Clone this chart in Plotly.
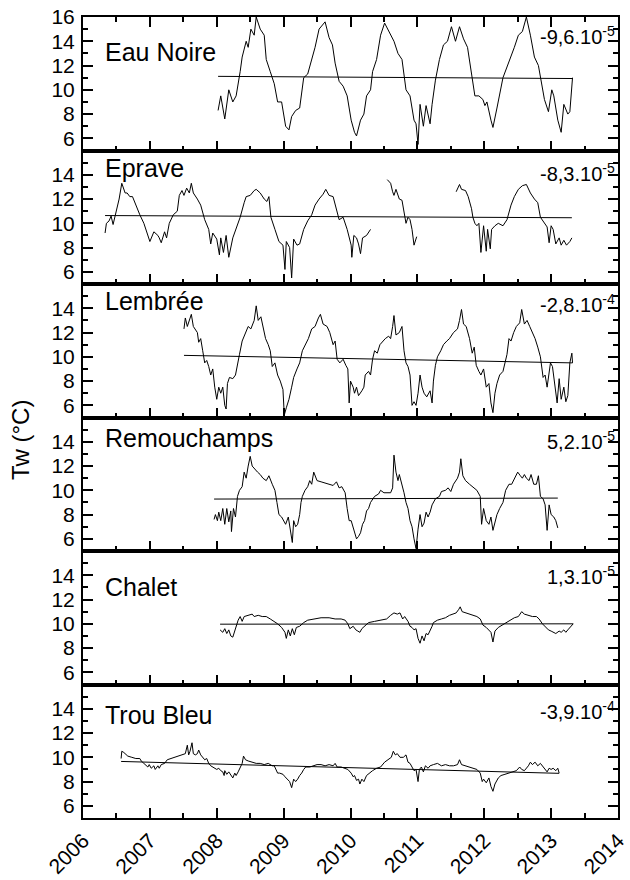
import plotly.graph_objects as go

# ---------------- data ----------------
station_names = ["Eau Noire", "Eprave", "Lembrée", "Remouchamps", "Chalet", "Trou Bleu"]
slope_mantissa = ["-9,6", "-8,3", "-2,8", "5,2", "1,3", "-3,9"]
slope_exponent = ["-5", "-5", "-4", "-5", "-5", "-4"]

eau_noire_t = [2008.02, 2008.06, 2008.12, 2008.18, 2008.24, 2008.29, 2008.35, 2008.38, 2008.44, 2008.47,
               2008.51, 2008.56, 2008.59, 2008.65, 2008.71, 2008.74, 2008.80, 2008.86, 2008.91, 2008.97,
               2009.03, 2009.08, 2009.12, 2009.18, 2009.24, 2009.30, 2009.36, 2009.42, 2009.47, 2009.53,
               2009.59, 2009.62, 2009.68, 2009.73, 2009.77, 2009.83, 2009.89, 2009.95,
               2010.01, 2010.06, 2010.09, 2010.15, 2010.20, 2010.24, 2010.30, 2010.33, 2010.39, 2010.45,
               2010.51, 2010.60, 2010.65, 2010.71, 2010.77, 2010.83, 2010.89, 2010.95, 2010.98,
               2011.01, 2011.04, 2011.09, 2011.13, 2011.19, 2011.22, 2011.27, 2011.33, 2011.39, 2011.45,
               2011.51, 2011.57, 2011.63, 2011.69, 2011.75, 2011.81, 2011.86, 2011.92, 2011.98,
               2012.01, 2012.04, 2012.10, 2012.13, 2012.19, 2012.23, 2012.28, 2012.45, 2012.51, 2012.57,
               2012.63, 2012.69, 2012.75, 2012.81, 2012.84, 2012.90, 2012.96,
               2013.01, 2013.04, 2013.10, 2013.15, 2013.19, 2013.25, 2013.28, 2013.32]
eau_noire_tw = [8.3, 9.5, 7.6, 10.0, 9.0, 9.5, 11.5, 12.7, 14.0, 13.5,
                15.0, 14.5, 16.0, 15.0, 14.5, 12.5, 11.5, 10.5, 9.0, 9.0,
                7.0, 6.7, 7.8, 8.3, 8.5, 11.0, 11.3, 12.5, 13.5, 15.0,
                15.4, 15.6, 14.3, 13.7, 12.2, 10.7, 10.3, 9.5,
                7.5, 6.5, 6.2, 7.5, 8.0, 9.5, 10.0, 11.5, 12.5, 14.5,
                15.5, 14.5, 14.0, 13.0, 12.5, 10.0, 9.5, 7.5, 7.2,
                5.5, 8.8, 7.0, 8.7, 7.2, 8.8, 10.8, 12.5, 13.7, 14.0,
                15.2, 14.0, 15.2, 14.2, 13.5, 11.5, 9.5, 9.5, 9.2,
                8.7, 9.0, 7.5, 6.9, 8.5, 9.5, 11.0, 13.5, 14.5, 14.8,
                16.0, 14.5, 12.7, 12.0, 11.0, 9.2, 8.2,
                10.0, 9.5, 7.5, 6.5, 8.8, 8.0, 8.2, 11.0]

eprave_t = [2006.33, 2006.35, 2006.39, 2006.42, 2006.45, 2006.50, 2006.54, 2006.58, 2006.63, 2006.66,
            2006.70, 2006.74, 2006.79, 2006.85, 2006.91, 2006.97,
            2007.00, 2007.06, 2007.12, 2007.14, 2007.17, 2007.22, 2007.25, 2007.29, 2007.35, 2007.41,
            2007.44, 2007.48, 2007.51, 2007.55, 2007.59, 2007.62, 2007.65, 2007.71, 2007.76, 2007.82,
            2007.88, 2007.91, 2007.94,
            2008.00, 2008.04, 2008.06, 2008.10, 2008.14, 2008.18, 2008.24, 2008.29, 2008.35, 2008.41,
            2008.44, 2008.50, 2008.56, 2008.59, 2008.65, 2008.71, 2008.75, 2008.78, 2008.81, 2008.87,
            2008.93, 2008.99,
            2009.02, 2009.04, 2009.09, 2009.12, 2009.15, 2009.20, 2009.24, 2009.30, 2009.36, 2009.42,
            2009.47, 2009.53, 2009.59, 2009.63, 2009.68, 2009.74, 2009.80, 2009.83, 2009.89, 2009.95,
            2010.01, 2010.02, 2010.05, 2010.09, 2010.12, 2010.15, 2010.18, 2010.24, 2010.30,
            2010.42,
            2010.55, 2010.60, 2010.63, 2010.65, 2010.68, 2010.73, 2010.77, 2010.80, 2010.83, 2010.86,
            2010.89, 2010.92, 2010.95, 2010.99,
            2011.30,
            2011.58, 2011.63, 2011.66, 2011.72, 2011.76, 2011.81, 2011.83, 2011.86, 2011.89, 2011.92,
            2011.95, 2011.99,
            2012.03, 2012.05, 2012.09, 2012.11, 2012.16, 2012.21, 2012.28, 2012.34, 2012.40, 2012.45,
            2012.51, 2012.57, 2012.63, 2012.69, 2012.75, 2012.80, 2012.84, 2012.90, 2012.94, 2012.97,
            2013.00, 2013.03, 2013.07, 2013.12, 2013.15, 2013.19, 2013.23, 2013.28, 2013.31]
eprave_tw = [9.2, 10.0, 10.2, 10.6, 9.9, 11.0, 12.0, 13.3, 12.5, 12.5,
             12.2, 12.2, 11.5, 10.7, 10.0, 9.0,
             8.5, 9.3, 9.0, 8.8, 8.4, 9.3, 8.8, 10.0, 10.7, 11.0,
             12.3, 12.7, 12.3, 12.9, 12.5, 13.3, 12.5, 12.0, 11.5, 10.3,
             9.5, 8.3, 9.2,
             8.7, 7.4, 8.8, 7.6, 9.0, 7.2, 8.8, 9.5, 10.5, 11.7,
             12.2, 12.3, 12.7, 12.8, 12.5, 12.0, 11.8, 12.2, 10.5, 9.5,
             8.5, 8.2,
             6.2, 8.5, 8.0, 5.5, 8.7, 8.2, 8.3, 9.5, 10.2, 10.7,
             11.5, 12.0, 12.4, 12.8, 12.3, 12.2, 11.0, 10.3, 10.5, 9.5,
             8.2, 7.2, 9.0, 8.8, 8.3, 7.5, 8.8, 9.0, 9.5,
             None,
             13.6, 13.3, 12.6, 12.3, 12.8, 12.0, 11.9, 11.0, 10.0, 10.5,
             10.3, 9.5, 8.2, 8.9,
             None,
             12.6, 13.2, 12.8, 12.7, 12.2, 11.2, 10.5, 10.0, 9.8, 10.0,
             7.6, 9.8,
             7.7, 9.5, 7.9, 9.5, 9.8, 10.0, 9.8, 10.3, 11.5, 12.2,
             12.8, 13.1, 13.2, 12.5, 12.0, 11.7, 10.5, 10.0, 9.7, 8.4,
             9.8, 9.5, 8.3, 8.8, 8.2, 8.6, 8.2, 8.5, 8.8]

lembree_t = [2007.51, 2007.53, 2007.56, 2007.59, 2007.62, 2007.65, 2007.68, 2007.71, 2007.73, 2007.76,
             2007.79, 2007.82, 2007.85, 2007.88, 2007.91, 2007.94, 2007.97,
             2008.00, 2008.03, 2008.06, 2008.09, 2008.12, 2008.14, 2008.16, 2008.19, 2008.24, 2008.28,
             2008.31, 2008.34, 2008.38, 2008.43, 2008.47, 2008.51, 2008.56, 2008.59, 2008.62, 2008.66,
             2008.69, 2008.73, 2008.77, 2008.80, 2008.83, 2008.87, 2008.91, 2008.95, 2008.99,
             2009.01, 2009.04, 2009.08, 2009.12, 2009.15, 2009.20, 2009.24, 2009.28, 2009.33, 2009.37,
             2009.42, 2009.47, 2009.52, 2009.55, 2009.59, 2009.65, 2009.69, 2009.74, 2009.77, 2009.80,
             2009.84, 2009.89, 2009.93, 2009.96, 2009.98,
             2010.00, 2010.04, 2010.06, 2010.09, 2010.12, 2010.17, 2010.20, 2010.22, 2010.27, 2010.30,
             2010.33, 2010.36, 2010.40, 2010.44, 2010.48, 2010.52, 2010.57, 2010.60, 2010.63, 2010.65,
             2010.68, 2010.73, 2010.77, 2010.80, 2010.83, 2010.86, 2010.89, 2010.92, 2010.95, 2010.98,
             2011.01, 2011.04, 2011.07, 2011.10, 2011.14, 2011.19, 2011.22, 2011.24, 2011.27, 2011.30,
             2011.35, 2011.39, 2011.44, 2011.48, 2011.54, 2011.60, 2011.63, 2011.66, 2011.69, 2011.73,
             2011.78, 2011.82, 2011.85, 2011.88, 2011.92, 2011.95, 2011.99,
             2012.03, 2012.07, 2012.10, 2012.13, 2012.16, 2012.19, 2012.23, 2012.28, 2012.31, 2012.34,
             2012.37, 2012.40, 2012.44, 2012.48, 2012.53, 2012.56, 2012.60, 2012.64, 2012.68, 2012.72,
             2012.76, 2012.80, 2012.84, 2012.88, 2012.91, 2012.94, 2012.99,
             2013.02, 2013.06, 2013.09, 2013.12, 2013.15, 2013.19, 2013.22, 2013.25, 2013.28, 2013.31,
             2013.32]
lembree_tw = [12.3, 13.2, 12.5, 13.0, 13.5, 12.5, 12.2, 12.0, 11.2, 11.5,
              10.5, 9.5, 9.7, 9.2, 8.5, 9.0, 7.5,
              6.5, 7.5, 7.0, 7.5, 6.0, 5.7, 7.8, 8.3, 8.2, 8.5,
              9.5, 10.2, 11.3, 12.0, 12.5, 12.3, 13.0, 14.2, 13.0, 13.3,
              12.5, 11.5, 11.0, 10.5, 9.2, 9.5, 8.5, 8.0, 7.3,
              5.2, 5.8, 6.5, 7.5, 8.3, 9.0, 9.5, 10.5, 11.0, 11.5,
              12.3, 12.5, 13.2, 13.5, 12.7, 12.5, 12.0, 11.0, 11.3, 9.8,
              9.5, 9.8, 9.3, 9.0, 6.2,
              8.0, 7.5, 7.0, 7.5, 6.8, 7.2, 7.5, 8.5, 8.8, 8.5,
              9.8, 10.5, 10.3, 11.0, 11.3, 11.5, 11.7, 11.5, 12.5, 13.4,
              11.8, 12.0, 12.5, 10.5, 9.5, 9.2, 8.5, 6.0, 6.3, 6.0,
              7.0, 8.5, 7.5, 7.0, 6.7, 7.2, 6.2, 8.0, 9.3, 10.0,
              10.5, 11.0, 11.3, 11.5, 12.0, 12.3, 13.0, 13.9, 12.7, 12.5,
              11.5, 10.3, 10.8, 9.3, 8.8, 8.5, 9.0,
              7.5, 7.8, 6.2, 5.4, 7.0, 7.8, 8.5, 8.8, 9.5, 10.2,
              11.5, 11.3, 12.0, 12.5, 12.8, 13.9, 12.7, 13.0, 12.5, 12.0,
              11.5, 10.8, 10.0, 8.3, 8.5, 7.5, 9.5,
              9.2, 7.3, 6.2, 8.2, 6.5, 7.5, 6.3, 6.8, 9.5, 10.3,
              9.5]

remouchamps_t = [2007.96, 2007.98,
                 2008.01, 2008.03, 2008.06, 2008.09, 2008.12, 2008.15, 2008.18, 2008.21, 2008.22, 2008.25,
                 2008.28, 2008.31, 2008.34, 2008.38, 2008.41, 2008.44, 2008.47, 2008.50, 2008.53, 2008.56,
                 2008.61, 2008.65, 2008.69, 2008.74, 2008.78, 2008.83, 2008.87, 2008.90, 2008.93, 2008.97,
                 2009.00, 2009.03, 2009.07, 2009.10, 2009.13, 2009.15, 2009.18, 2009.21, 2009.24, 2009.26,
                 2009.28, 2009.32, 2009.36, 2009.39, 2009.42, 2009.45, 2009.47, 2009.50, 2009.56, 2009.62,
                 2009.68, 2009.74, 2009.79, 2009.83, 2009.87, 2009.92, 2009.95, 2009.98,
                 2010.01, 2010.04, 2010.06, 2010.09, 2010.12, 2010.15, 2010.18, 2010.21, 2010.24, 2010.27,
                 2010.30, 2010.36, 2010.42, 2010.45, 2010.50, 2010.55, 2010.60, 2010.63, 2010.65, 2010.68,
                 2010.71, 2010.73, 2010.77, 2010.80, 2010.83, 2010.86, 2010.89, 2010.92, 2010.95, 2010.98,
                 2011.01, 2011.04, 2011.07, 2011.10, 2011.13, 2011.16, 2011.19, 2011.22, 2011.27, 2011.33,
                 2011.36, 2011.42, 2011.46, 2011.50, 2011.54, 2011.57, 2011.60, 2011.63, 2011.65, 2011.68,
                 2011.72, 2011.78, 2011.83, 2011.89, 2011.94, 2011.96, 2011.99,
                 2012.03, 2012.07, 2012.10, 2012.13, 2012.16, 2012.19, 2012.23, 2012.28, 2012.32, 2012.37,
                 2012.41, 2012.45, 2012.50, 2012.54, 2012.57, 2012.60, 2012.63, 2012.67, 2012.70, 2012.74,
                 2012.78, 2012.81, 2012.84, 2012.88, 2012.91, 2012.94, 2012.97,
                 2013.00, 2013.04, 2013.07, 2013.10]
remouchamps_tw = [7.6, 8.0,
                  7.5, 8.2, 7.5, 8.5, 7.2, 8.5, 7.4, 8.3, 6.6, 8.5,
                  7.8, 9.5, 10.0, 10.3, 11.5, 11.0, 12.0, 12.8, 12.0, 11.8,
                  11.5, 11.3, 11.0, 10.8, 11.2, 10.5, 10.0, 9.0, 8.0, 7.8,
                  7.5, 7.2, 7.8, 6.8, 5.7, 7.5, 7.0, 7.2, 8.0, 9.0,
                  9.5, 10.0, 10.3, 10.8, 10.5, 11.5, 11.2, 10.8, 10.7, 10.6,
                  10.5, 10.4, 10.7, 10.2, 10.3, 9.8, 8.5, 7.5,
                  7.5, 7.0, 6.5, 6.0, 6.2, 6.5, 7.2, 7.5, 8.3, 8.5,
                  9.0, 9.5, 9.7, 10.0, 9.8, 9.8, 9.8, 10.2, 12.9, 11.5,
                  10.8, 11.3, 10.5, 9.8, 9.0, 8.5, 7.5, 7.0, 6.0, 5.2,
                  6.8, 8.0, 7.0, 7.3, 8.2, 7.8, 8.2, 8.8, 9.3, 9.5,
                  9.9, 10.0, 10.2, 9.9, 10.5, 10.8, 11.0, 11.5, 12.6, 11.2,
                  10.8, 10.5, 10.3, 10.0, 9.5, 7.2, 8.5,
                  7.5, 7.2, 7.8, 6.7, 7.5, 8.0, 8.5, 9.0, 10.0, 10.5,
                  10.5, 11.0, 11.5, 11.2, 11.0, 11.3, 11.0, 10.8, 11.3, 10.5,
                  10.5, 11.2, 9.5, 9.3, 8.8, 6.7, 8.8,
                  8.0, 7.8, 7.5, 6.9]

chalet_t = [2008.05, 2008.09, 2008.12, 2008.15, 2008.18, 2008.21, 2008.24, 2008.27, 2008.29, 2008.32,
            2008.35, 2008.38, 2008.41, 2008.47, 2008.53, 2008.56, 2008.62, 2008.68, 2008.74, 2008.80,
            2008.86, 2008.91, 2008.97,
            2009.02, 2009.04, 2009.07, 2009.10, 2009.13, 2009.16, 2009.19, 2009.24, 2009.30, 2009.36,
            2009.45, 2009.56, 2009.68, 2009.77, 2009.86, 2009.92, 2009.96, 2009.99,
            2010.04, 2010.08, 2010.11, 2010.14, 2010.17, 2010.21, 2010.27, 2010.36, 2010.45, 2010.54,
            2010.60, 2010.65, 2010.70, 2010.74, 2010.78, 2010.81, 2010.86, 2010.89, 2010.92, 2010.95,
            2010.98,
            2011.01, 2011.04, 2011.07, 2011.10, 2011.13, 2011.16, 2011.19, 2011.22, 2011.24, 2011.30,
            2011.36, 2011.42, 2011.48, 2011.53, 2011.58, 2011.62, 2011.64, 2011.67, 2011.72, 2011.78,
            2011.83, 2011.89, 2011.94, 2011.98,
            2012.03, 2012.07, 2012.10, 2012.13, 2012.16, 2012.21, 2012.27, 2012.34, 2012.40, 2012.45,
            2012.51, 2012.56, 2012.60, 2012.66, 2012.72, 2012.78, 2012.82, 2012.87, 2012.91, 2012.96,
            2013.00, 2013.04, 2013.07, 2013.12, 2013.15, 2013.19, 2013.22, 2013.25, 2013.29, 2013.33]
chalet_tw = [9.5, 9.3, 9.6, 9.2, 9.5, 9.0, 8.9, 9.5, 9.7, 10.3,
             10.6, 10.2, 10.6, 10.7, 10.8, 10.6, 10.7, 10.6, 10.6, 10.4,
             10.2, 10.0, 9.7,
             9.3, 8.8, 9.5, 9.0, 9.6, 9.1, 9.7, 9.8, 10.1, 10.3,
             10.4, 10.5, 10.5, 10.4, 10.4, 10.3, 10.0, 9.6,
             9.8, 9.5, 9.4, 9.3, 9.6, 9.8, 10.1, 10.2, 10.3, 10.4,
             10.7, 10.9, 10.8, 10.9, 10.4, 10.6, 10.2, 9.8, 9.7, 9.5,
             9.6,
             8.8, 8.4, 9.0, 8.6, 9.2, 9.1, 9.4, 9.8, 10.1, 10.3,
             10.4, 10.5, 10.7, 10.8, 10.9, 11.2, 11.4, 11.0, 10.9, 10.8,
             10.7, 10.6, 10.4, 9.9,
             9.7, 9.5, 9.3, 8.5, 9.4, 9.7, 9.9, 10.1, 10.3, 10.5,
             10.6, 11.0, 10.8, 10.7, 10.6, 10.6, 10.4, 10.0, 9.8, 9.5,
             9.4, 9.3, 9.2, 9.4, 9.3, 9.5, 9.3, 9.5, 9.8, 10.0]

trou_bleu_t = [2006.57, 2006.58, 2006.61, 2006.67, 2006.73, 2006.79, 2006.85, 2006.87, 2006.91, 2006.93,
               2006.97, 2006.99,
               2007.02, 2007.06, 2007.08, 2007.12, 2007.14, 2007.17, 2007.22, 2007.26, 2007.32, 2007.36,
               2007.41, 2007.47, 2007.53, 2007.56, 2007.58, 2007.60, 2007.63, 2007.65, 2007.68, 2007.71,
               2007.73, 2007.76, 2007.79, 2007.82, 2007.85, 2007.88, 2007.91, 2007.94, 2007.97,
               2008.00, 2008.03, 2008.06, 2008.09, 2008.11, 2008.12, 2008.15, 2008.18, 2008.21, 2008.24,
               2008.27, 2008.29, 2008.32, 2008.35, 2008.38, 2008.40, 2008.43, 2008.47, 2008.53, 2008.59,
               2008.65, 2008.71, 2008.77, 2008.83, 2008.86, 2008.88, 2008.91, 2008.94, 2008.99,
               2009.02, 2009.06, 2009.09, 2009.12, 2009.15, 2009.18, 2009.21, 2009.24, 2009.27, 2009.30,
               2009.33, 2009.39, 2009.45, 2009.50, 2009.56, 2009.62, 2009.68, 2009.74, 2009.77, 2009.80,
               2009.86, 2009.92, 2009.96,
               2010.01, 2010.04, 2010.06, 2010.09, 2010.12, 2010.14, 2010.17, 2010.20, 2010.24, 2010.28,
               2010.33, 2010.39, 2010.45, 2010.51, 2010.57, 2010.61, 2010.64, 2010.67, 2010.70, 2010.74,
               2010.79, 2010.83, 2010.86, 2010.89, 2010.92, 2010.95, 2010.98,
               2011.01, 2011.03, 2011.06, 2011.09, 2011.12, 2011.16, 2011.19, 2011.24, 2011.30, 2011.36,
               2011.42, 2011.48, 2011.54, 2011.60, 2011.63, 2011.66, 2011.72, 2011.78, 2011.83, 2011.89,
               2011.94, 2011.97, 2011.99,
               2012.03, 2012.07, 2012.10, 2012.13, 2012.16, 2012.21, 2012.25, 2012.31, 2012.37, 2012.42,
               2012.48, 2012.53, 2012.56, 2012.60, 2012.66, 2012.69, 2012.72, 2012.76, 2012.80, 2012.84,
               2012.88, 2012.91, 2012.94, 2012.97,
               2013.00, 2013.03, 2013.07, 2013.10, 2013.12]
trou_bleu_tw = [9.9, 10.5, 10.4, 10.1, 10.0, 9.9, 9.9, 9.7, 9.5, 9.4,
                9.2, 9.4,
                9.1, 9.3, 9.0, 9.3, 9.1, 9.4, 9.5, 9.8, 9.9, 10.0,
                10.1, 10.2, 10.3, 11.0, 10.2, 10.5, 11.2, 10.3, 10.2, 10.3,
                10.6, 10.2, 10.0, 9.8, 9.9, 9.5, 9.3, 9.2, 9.1,
                9.0, 9.1, 8.9, 8.8, 8.5, 8.9, 8.6, 8.8, 8.5, 8.3,
                8.7, 8.5, 8.8, 9.2, 9.5, 10.1, 9.8, 9.7, 9.6, 9.5,
                9.5, 9.4, 9.5, 9.3, 9.3, 9.0, 8.7, 8.7, 8.6,
                8.4, 8.2, 8.0, 7.5, 8.2, 8.0, 8.2, 8.5, 8.7, 9.0,
                9.2, 9.2, 9.3, 9.4, 9.4, 9.3, 9.4, 9.3, 9.5, 9.2,
                9.2, 9.1, 9.0,
                8.7, 8.4, 8.5, 8.1, 8.2, 7.8, 8.2, 8.0, 8.5, 8.7,
                8.9, 9.1, 9.2, 9.6, 9.8, 10.0, 10.5, 10.2, 10.3, 10.0,
                10.0, 10.2, 9.6, 9.5, 9.2, 8.9, 9.0,
                8.0, 9.0, 9.2, 8.8, 9.3, 9.1, 9.3, 9.4, 9.5, 9.3,
                9.4, 9.3, 9.3, 9.4, 9.8, 9.4, 9.3, 9.2, 9.1, 9.0,
                8.7, 8.0, 8.2,
                7.9, 8.3, 7.6, 7.2, 7.8, 8.3, 8.5, 8.6, 8.7, 8.8,
                8.9, 9.2, 9.0, 8.9, 9.3, 9.6, 9.4, 9.6, 9.3, 9.5,
                9.2, 9.0, 8.8, 9.1,
                9.0, 9.1, 8.9, 9.1, 8.7]

# linear trend lines (start/end)
trend_t = [[2008.02, 2013.32], [2006.33, 2013.31], [2007.51, 2013.32],
           [2007.96, 2013.10], [2008.05, 2013.33], [2006.57, 2013.12]]
trend_tw = [[11.11, 10.93], [10.64, 10.46], [10.12, 9.50],
            [9.28, 9.36], [9.97, 10.00], [9.66, 8.68]]

series_t = [eau_noire_t, eprave_t, lembree_t, remouchamps_t, chalet_t, trou_bleu_t]
series_tw = [eau_noire_tw, eprave_tw, lembree_tw, remouchamps_tw, chalet_tw, trou_bleu_tw]

year_ticks = [2006, 2007, 2008, 2009, 2010, 2011, 2012, 2013, 2014]
half_year_ticks = [2006.5, 2007.5, 2008.5, 2009.5, 2010.5, 2011.5, 2012.5, 2013.5]

for a, b in zip(series_t, series_tw):
    assert len(a) == len(b), (len(a), len(b))

# ---------------- figure ----------------
W, H = 630, 880
ML, MR, MT, MB = 83, 2, 17, 52
PH = H - MT - MB
FONT = "Liberation Sans, Arial, sans-serif"
N = 6

fig = go.Figure()
layout = dict(
    width=W, height=H,
    margin=dict(l=ML, r=MR, t=MT, b=MB, pad=0),
    paper_bgcolor="white", plot_bgcolor="white",
    showlegend=False,
    font=dict(family=FONT, size=21, color="black"),
)

for i in range(N):
    k = "" if i == 0 else str(i + 1)
    fig.add_trace(go.Scatter(x=series_t[i], y=series_tw[i], mode="lines",
                             line=dict(color="black", width=1), connectgaps=False,
                             xaxis="x" + k, yaxis="y" + k, hoverinfo="skip"))
    fig.add_trace(go.Scatter(x=trend_t[i], y=trend_tw[i], mode="lines",
                             line=dict(color="black", width=1),
                             xaxis="x" + k, yaxis="y" + k, hoverinfo="skip"))
    top = 1 - i / N
    bot = 1 - (i + 1) / N
    layout["xaxis" + k] = dict(
        domain=[0, 1], anchor="y" + k, range=[2006, 2014],
        showline=True, linewidth=2, linecolor="black",
        mirror="ticks" if i == 0 else True,
        ticks="inside", ticklen=10, tickwidth=1.5, tickcolor="black",
        tickvals=year_ticks, ticktext=[str(y) for y in year_ticks],
        showticklabels=(i == N - 1), tickangle=-45,
        ticklabeloverflow="allow",
        tickfont=dict(size=21, family=FONT),
        minor=dict(ticks="inside", ticklen=5, tickwidth=1.5, tickcolor="black",
                   tickvals=half_year_ticks, showgrid=False),
        showgrid=False, zeroline=False,
    )
    yt = [6, 8, 10, 12, 14, 16] if i == 0 else [6, 8, 10, 12, 14]
    layout["yaxis" + k] = dict(
        domain=[bot, top], anchor="x" + k, range=[5, 16],
        showline=True, linewidth=2, linecolor="black", mirror="ticks",
        ticks="inside", ticklen=10, tickwidth=1.5, tickcolor="black",
        tickvals=yt, ticktext=[str(v) for v in yt],
        tickfont=dict(size=21, family=FONT), ticklabelstandoff=2,
        ticklabeloverflow="allow",
        minor=dict(ticks="inside", ticklen=5, tickwidth=1.5, tickcolor="black",
                   tickvals=[5, 7, 9, 11, 13, 15], showgrid=False),
        showgrid=False, zeroline=False,
    )

def ypaper(py):
    return (H - MB - py) / PH

def xpaper(px):
    return (px - ML) / (W - ML - MR)

name_y_px = [52, 170, 305, 443, 594, 724]
slope_y_px = [36, 174, 307, 446, 582, 719]
annotations = []
for i in range(N):
    annotations.append(dict(text=station_names[i], x=xpaper(103), y=ypaper(name_y_px[i]),
                            xref="paper", yref="paper", xanchor="left", yanchor="middle",
                            showarrow=False, font=dict(size=25, family=FONT)))
    annotations.append(dict(text=slope_mantissa[i] + ".10<sup>" + slope_exponent[i] + "</sup>",
                            x=xpaper(627), y=ypaper(slope_y_px[i]),
                            xref="paper", yref="paper", xanchor="right", yanchor="middle",
                            showarrow=False, font=dict(size=20, family=FONT)))
annotations.append(dict(text="Tw (°C)", x=xpaper(20), y=ypaper(445), textangle=-90,
                        xref="paper", yref="paper", xanchor="center", yanchor="middle",
                        showarrow=False, font=dict(size=24, family=FONT)))
layout["annotations"] = annotations

fig.update_layout(**layout)
fig.write_html("out.html", include_plotlyjs=True, config={"displayModeBar": False})
